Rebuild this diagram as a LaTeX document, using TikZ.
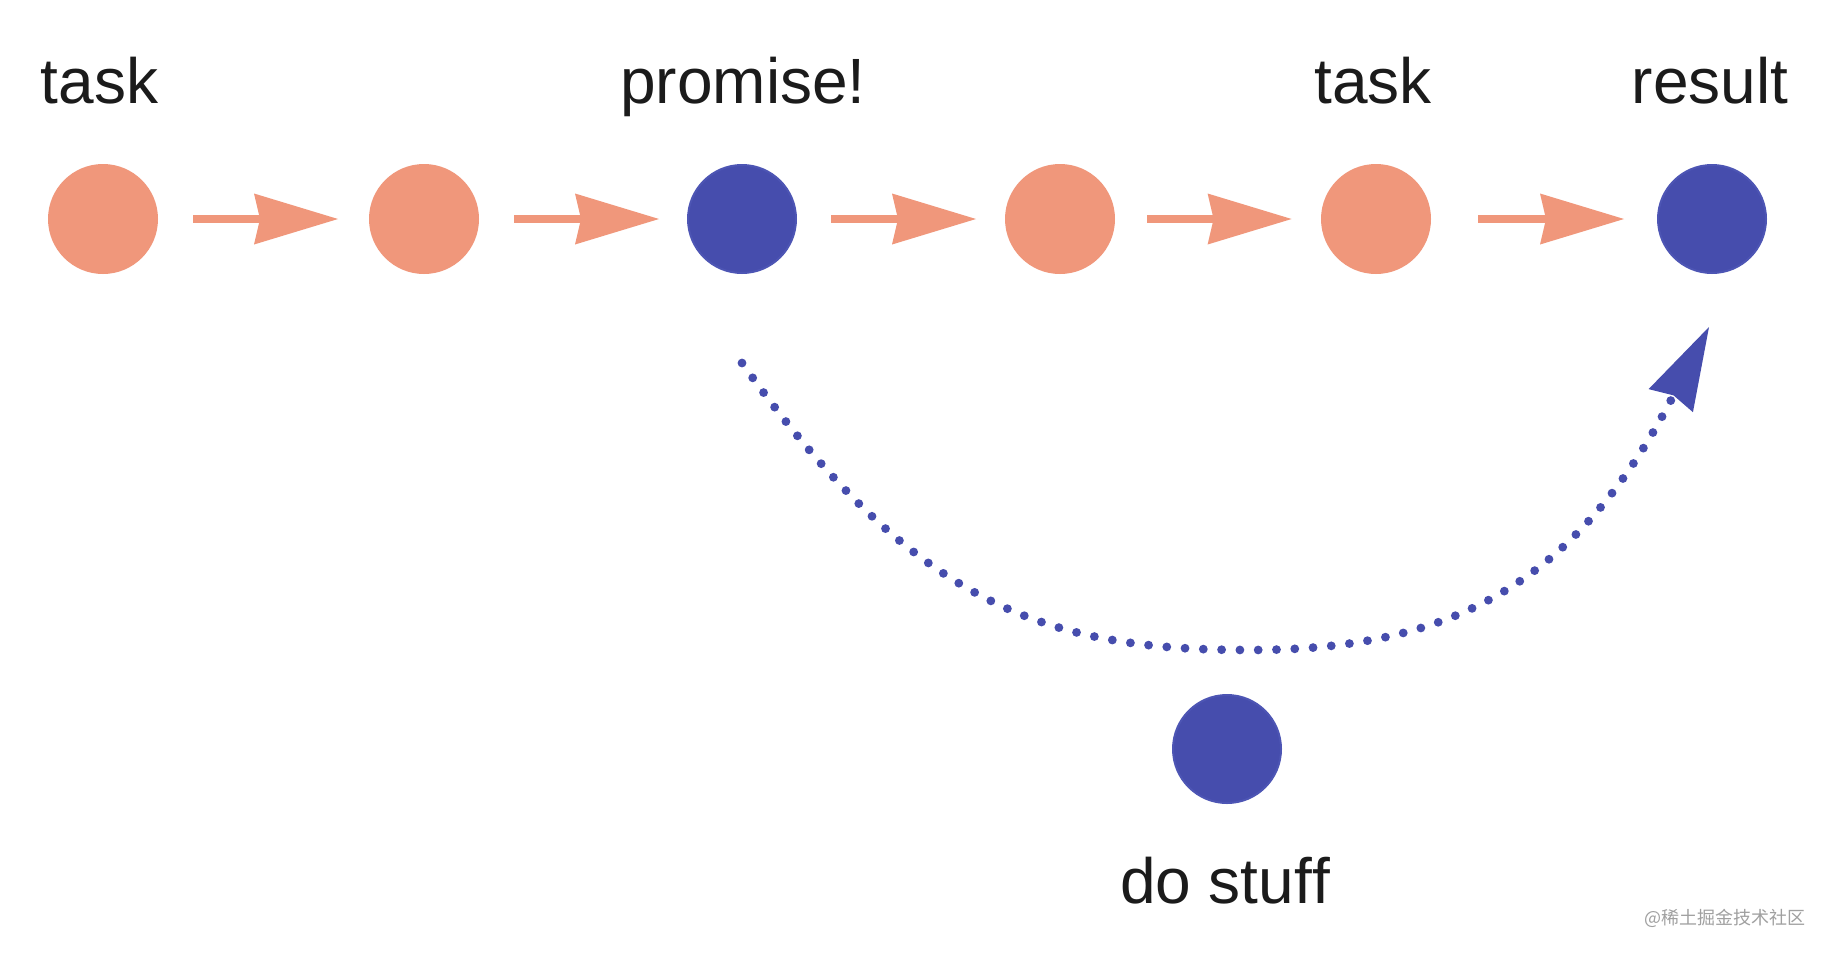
\documentclass[tikz,border=0pt]{standalone}
\usepackage{fontspec}
\setmainfont[Ligatures=NoCommon]{Liberation Sans}
\newfontfamily\cjkfont{Noto Sans CJK SC}
\usetikzlibrary{arrows.meta}
\definecolor{sal}{HTML}{F0977B}
\definecolor{ind}{HTML}{464DAD}
\definecolor{indedge}{HTML}{4D55B4}
\definecolor{txt}{HTML}{1B1B1B}
\definecolor{wmgray}{HTML}{A0A0A0}
\begin{document}
\begin{tikzpicture}[x=0.5pt,y=-0.5pt,
  dot/.style={circle, minimum size=55pt, inner sep=0pt, outer sep=0pt},
  saldot/.style={dot, fill=sal},
  bluedot/.style={dot, fill=ind, draw=indedge, line width=1pt, minimum size=54pt},
  lbl/.style={anchor=base, font=\fontsize{32}{38}\selectfont, text=txt, inner sep=0pt},
  flow/.style={draw=sal, line width=4.25pt,
    -{Stealth[length=42pt, width=25.5pt, inset=3pt, line width=0pt]}},
  back/.style={draw=ind, line width=4.4pt, line cap=round,
    dash pattern=on 0pt off 9.15pt,
    -{Stealth[length=41.5pt, width=25pt, inset=3pt, line width=0pt]}}]
\path[use as bounding box, fill=white] (0,0) rectangle (1832,954);

\node[saldot]  (c1) at (103,219) {};
\node[saldot]  (c2) at (424,219) {};
\node[bluedot] (c3) at (742,219) {};
\node[saldot]  (c4) at (1060,219) {};
\node[saldot]  (c5) at (1376,219) {};
\node[bluedot] (c6) at (1712,219) {};
\node[bluedot] (c7) at (1227,749) {};

\node[lbl] (l1) at (99.5,103) {task};
\node[lbl] (l3) at (743,103) {promise!};
\node[lbl] (l5) at (1373,103) {task};
\node[lbl] (l6) at (1710,103) {result};
\node[lbl] (l7) at (1225,903) {do stuf\kern0pt f};

\draw[flow, shorten <=17.5pt, shorten >=15.5pt] (c1) -- (c2);
\draw[flow, shorten <=17.5pt, shorten >=14.5pt] (c2) -- (c3);
\draw[flow, shorten <=17.5pt, shorten >=14.5pt] (c3) -- (c4);
\draw[flow, shorten <=16pt, shorten >=14.7pt] (c4) -- (c5);
\draw[flow, shorten <=23.5pt, shorten >=17pt] (c5) -- (c6);

\coordinate (s) at ([yshift=-45pt]c3.south);
\coordinate (e) at ([xshift=-1.5pt,yshift=-27pt]c6.south);
\draw[back] (s) .. controls (917,609) and (1050,650) .. (1250,650)
  .. controls (1450,650) and (1575,585) .. (e);

\node[font=\cjkfont\fontsize{9}{11}\selectfont, text=wmgray, inner sep=0pt] (wm) at (1725,918) {@稀土掘金技术社区};
\end{tikzpicture}
\end{document}
